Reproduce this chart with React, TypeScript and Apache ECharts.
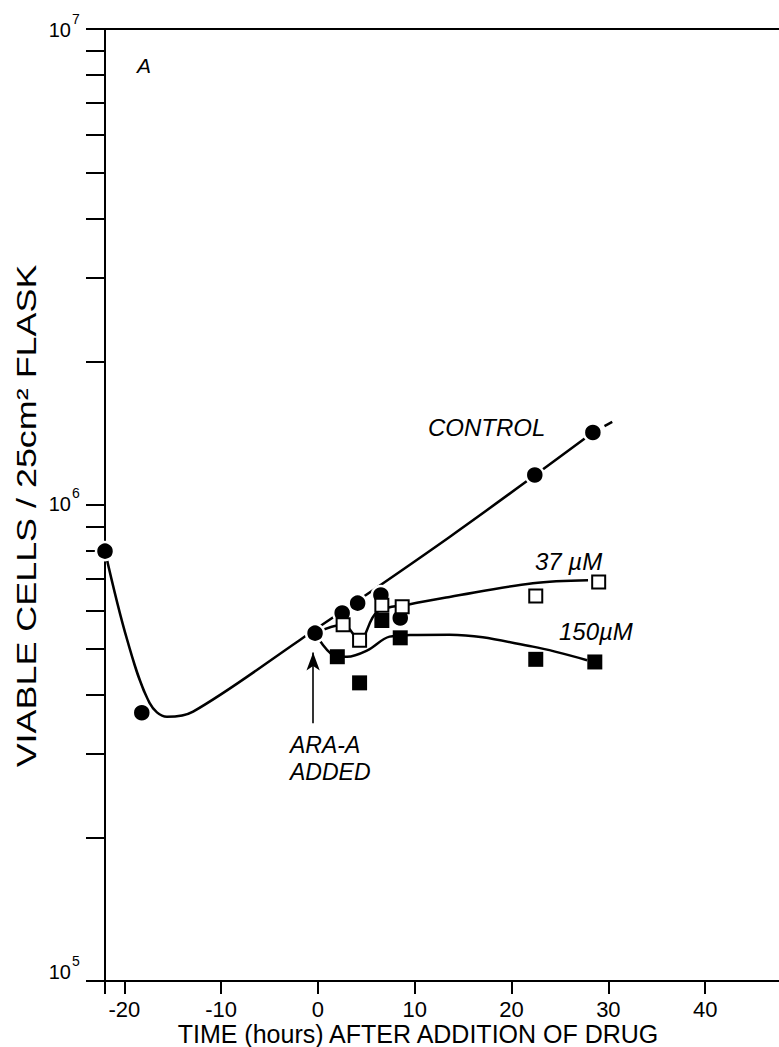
import React, { useEffect, useRef } from "react";
import * as echarts from "echarts";

// ---- data ----
// Control (filled circles): time (h) and viable cells / flask
const CONTROL_TIME = [-22, -18.2, -0.3, 2.5, 4.1, 6.5, 8.5, 22.4, 28.4];
const CONTROL_CELLS = [8.0e5, 3.66e5, 5.38e5, 5.93e5, 6.22e5, 6.47e5, 5.79e5, 1.156e6, 1.42e6];

// 37 µM (open squares)
const DOSE37_TIME = [2.6, 4.3, 6.6, 8.7, 22.5, 29.0];
const DOSE37_CELLS = [5.6e5, 5.2e5, 6.16e5, 6.11e5, 6.44e5, 6.89e5];

// 150 µM (filled squares)
const DOSE150_TIME = [2.0, 4.3, 6.6, 8.5, 22.5, 28.6];
const DOSE150_CELLS = [4.8e5, 4.23e5, 5.72e5, 5.26e5, 4.74e5, 4.68e5];

// hand-drawn fitted curves (knots)
const CONTROL_CURVE_TIME = [-22, -19.7, -17.4, -15.6, -12.9, -1.9, 13.6, 28.4];
const CONTROL_CURVE_CELLS = [8.0e5, 5.2e5, 3.84e5, 3.59e5, 3.68e5, 5.2e5, 8.57e5, 1.42e6];
const CONTROL_DASH_TIME = [29.6, 30.4];
const CONTROL_DASH_CELLS = [1.465e6, 1.495e6];

const CURVE37_TIME = [-0.3, 2.6, 4.3, 6.1, 9.5, 13.6, 22.2, 27.9];
const CURVE37_CELLS = [5.38e5, 5.6e5, 5.2e5, 5.96e5, 6.19e5, 6.41e5, 6.85e5, 6.95e5];

const CURVE150_TIME = [-0.3, 2.0, 3.0, 5.1, 7.4, 9.5, 13.6, 22.2, 27.8];
const CURVE150_CELLS = [5.38e5, 4.8e5, 4.8e5, 4.95e5, 5.29e5, 5.33e5, 5.34e5, 5.04e5, 4.72e5];

// "ARA-A ADDED" arrow (time, from cells, to cells)
const ARROW_TIME = -0.5;
const ARROW_FROM = 3.48e5;
const ARROW_TO = 4.9e5;

// axes
const X_MIN = -22;
const X_MAX = 48;
const X_TICKS = [-20, -10, 0, 10, 20, 30, 40];
const Y_DECADES = [5, 6, 7];
const Y_MANTISSAS = [1, 2, 3, 4, 5, 6, 7, 8, 9];
// small hand-lettering offsets of the decade labels (px)
const Y_LABEL_DY = [-9, -1, 1];

const FONT = '"Liberation Sans", Arial, sans-serif';

const zip = (a: number[], b: number[]) => a.map((v, i) => [v, b[i]]);

export default function App() {
  const ref = useRef<HTMLDivElement>(null);

  useEffect(() => {
    if (!ref.current) return;
    const chart = echarts.init(ref.current, null, { renderer: "svg" });

    const yTickExps: number[] = [];
    for (let d = Y_DECADES[0]; d < Y_DECADES[Y_DECADES.length - 1]; d++) {
      Y_MANTISSAS.forEach((m) => yTickExps.push(d + Math.log10(m)));
    }
    yTickExps.push(Y_DECADES[Y_DECADES.length - 1]);

    const black = "#000";
    const curveStyle = { color: black, width: 2.5 };

    const option: any = {
      animation: false,
      textStyle: { fontFamily: FONT, color: black },
      grid: {
        left: 105,
        top: 29,
        width: (X_MAX - X_MIN) * 9.68,
        height: 952,
        show: true,
        borderColor: black,
        borderWidth: 2,
        backgroundColor: "transparent",
        containLabel: false,
        outerBoundsMode: "none",
      },
      xAxis: {
        type: "value",
        min: X_MIN,
        max: X_MAX,
        axisLine: { show: true, onZero: false, lineStyle: { color: black, width: 2 } },
        axisTick: {
          show: true,
          customValues: [X_MIN, ...X_TICKS],
          length: 13,
          lineStyle: { color: black, width: 2 },
        },
        axisLabel: {
          customValues: X_TICKS,
          formatter: (v: number) => String(v),
          fontSize: 22,
          fontFamily: FONT,
          color: black,
          margin: 17,
        },
        splitLine: { show: false },
      },
      yAxis: [
        {
          type: "log",
          logBase: 10,
          min: 1e5,
          max: 1e7,
          position: "left",
          axisLine: { show: true, onZero: false, lineStyle: { color: black, width: 2 } },
          axisTick: { show: false },
          axisLabel: { show: false },
          splitLine: { show: false },
          minorTick: { show: false },
          minorSplitLine: { show: false },
        },
        {
          type: "value",
          min: Y_DECADES[0],
          max: Y_DECADES[Y_DECADES.length - 1],
          position: "left",
          offset: 0,
          axisLine: { show: false, onZero: false },
          axisTick: {
            show: true,
            customValues: yTickExps,
            length: 19,
            lineStyle: { color: black, width: 2 },
          },
          axisLabel: { show: false },
          splitLine: { show: false },
        },
      ],
      series: [
        {
          type: "line",
          data: zip(CONTROL_CURVE_TIME, CONTROL_CURVE_CELLS),
          showSymbol: false,
          symbol: "none",
          smooth: 0.35,
          lineStyle: curveStyle,
          silent: true,
          z: 2,
          markLine: {
            silent: true,
            symbol: ["none", "arrow"],
            symbolSize: [10, 18],
            lineStyle: { color: black, width: 1.6, type: "solid" },
            label: { show: false },
            data: [[{ coord: [ARROW_TIME, ARROW_FROM] }, { coord: [ARROW_TIME, ARROW_TO] }]],
          },
        },
        {
          type: "line",
          data: zip(CONTROL_DASH_TIME, CONTROL_DASH_CELLS),
          showSymbol: false,
          symbol: "none",
          lineStyle: curveStyle,
          silent: true,
          z: 2,
        },
        {
          type: "line",
          data: zip(CURVE37_TIME, CURVE37_CELLS),
          showSymbol: false,
          symbol: "none",
          smooth: 0.35,
          lineStyle: curveStyle,
          silent: true,
          z: 2,
        },
        {
          type: "line",
          data: zip(CURVE150_TIME, CURVE150_CELLS),
          showSymbol: false,
          symbol: "none",
          smooth: 0.35,
          lineStyle: curveStyle,
          silent: true,
          z: 2,
        },
        {
          type: "scatter",
          data: zip(CONTROL_TIME, CONTROL_CELLS),
          symbol: "circle",
          symbolSize: 18,
          itemStyle: { color: black, borderColor: "#fff", borderWidth: 2.5, opacity: 1 },
          silent: true,
          clip: false,
          z: 3,
        },
        {
          type: "scatter",
          data: zip(DOSE150_TIME, DOSE150_CELLS),
          symbol: "rect",
          symbolSize: 15,
          itemStyle: { color: black, opacity: 1 },
          silent: true,
          z: 4,
        },
        {
          type: "scatter",
          data: zip(DOSE37_TIME, DOSE37_CELLS),
          symbol: "rect",
          symbolSize: 13,
          itemStyle: { color: "#fff", borderColor: black, borderWidth: 2, opacity: 1 },
          silent: true,
          z: 5,
        },
      ],
    };

    chart.setOption(option);

    // decade labels "10^n" placed at the log axis' own pixel positions
    const axisX = chart.convertToPixel({ xAxisIndex: 0 }, X_MIN) as number;
    const decadeLabels: any[] = [];
    Y_DECADES.forEach((d, i) => {
      const py = (chart.convertToPixel({ yAxisIndex: 0 }, Math.pow(10, d)) as number) + Y_LABEL_DY[i];
      decadeLabels.push({
        type: "text",
        x: axisX - 34,
        y: py,
        style: { text: "10", font: `20px ${FONT}`, fill: black, align: "right", verticalAlign: "middle" },
      });
      decadeLabels.push({
        type: "text",
        x: axisX - 33,
        y: py - 11,
        style: { text: String(d), font: `14px ${FONT}`, fill: black, align: "left", verticalAlign: "middle" },
      });
    });

    chart.setOption({
      graphic: [
        ...decadeLabels,
        {
          type: "text",
          x: 137,
          y: 65,
          style: { text: "A", font: `italic 21px ${FONT}`, fill: black, align: "left", verticalAlign: "middle" },
        },
        {
          type: "text",
          x: 428,
          y: 427,
          style: { text: "CONTROL", font: `italic 24px ${FONT}`, fill: black, align: "left", verticalAlign: "middle" },
        },
        {
          type: "text",
          x: 535,
          y: 561,
          style: { text: "37 µM", font: `italic 24px ${FONT}`, fill: black, align: "left", verticalAlign: "middle" },
        },
        {
          type: "text",
          x: 559,
          y: 631,
          style: { text: "150µM", font: `italic 24px ${FONT}`, fill: black, align: "left", verticalAlign: "middle" },
        },
        {
          type: "text",
          x: 290,
          y: 745,
          style: { text: "ARA-A", font: `italic 23px ${FONT}`, fill: black, align: "left", verticalAlign: "middle" },
        },
        {
          type: "text",
          x: 290,
          y: 772,
          style: { text: "ADDED", font: `italic 23px ${FONT}`, fill: black, align: "left", verticalAlign: "middle" },
        },
        {
          type: "text",
          x: 27,
          y: 516,
          rotation: Math.PI / 2,
          scaleX: 1.33,
          style: { text: "VIABLE CELLS / 25cm² FLASK", font: `27px ${FONT}`, fill: black, align: "center", verticalAlign: "middle" },
        },
        {
          type: "text",
          x: 418,
          y: 1034,
          style: { text: "TIME (hours) AFTER ADDITION OF DRUG", font: `25px ${FONT}`, fill: black, align: "center", verticalAlign: "middle" },
        },
      ],
    });

    return () => chart.dispose();
  }, []);

  return (
    <div
      ref={ref}
      style={{ position: "absolute", left: 0, top: 0, width: 779, height: 1047, background: "#fff" }}
    />
  );
}
